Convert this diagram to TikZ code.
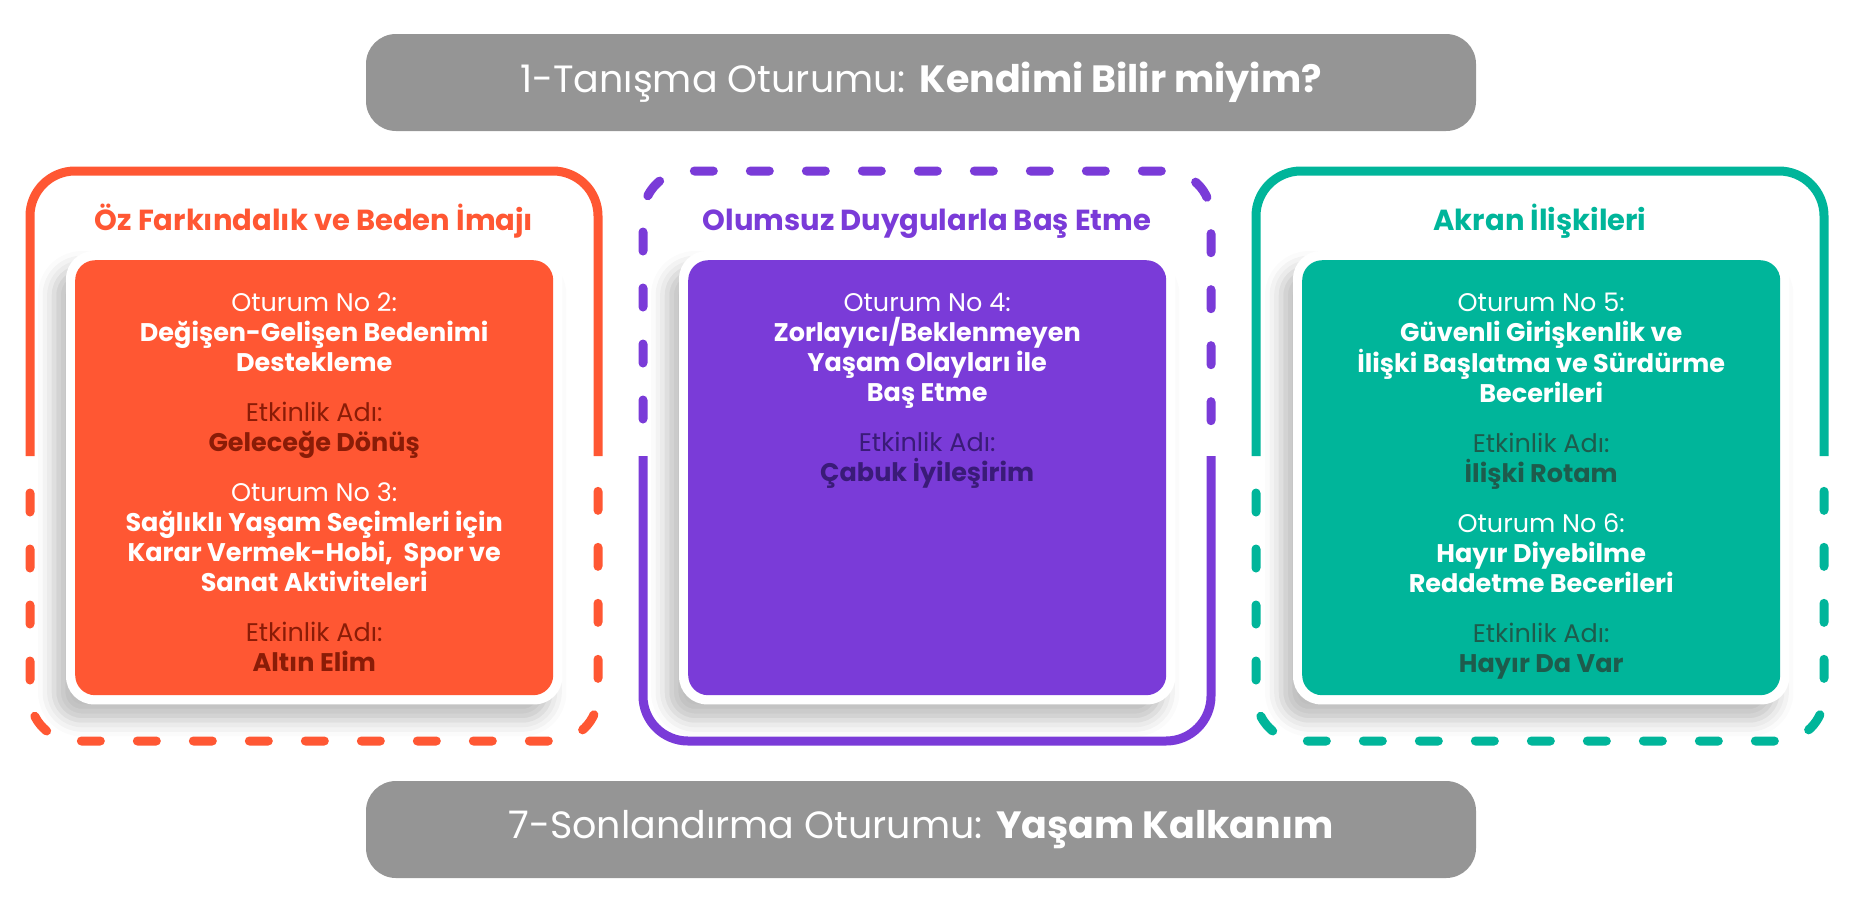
\documentclass[tikz,border=0pt]{standalone}
\usepackage{fontspec}
\setmainfont{Poppins}
\usetikzlibrary{backgrounds,fit,shadows.blur}

\definecolor{ozorange}{HTML}{FF5733}
\definecolor{ozdark}{HTML}{8A1C07}
\definecolor{olpurple}{HTML}{7A3BD8}
\definecolor{oldark}{HTML}{3A1B78}
\definecolor{akteal}{HTML}{00B59A}
\definecolor{akdark}{HTML}{1E5B4C}
\definecolor{bargray}{HTML}{959595}

\newcommand{\sessiontext}[1]{%
  \begin{minipage}[t][435pt][t]{478pt}
    \centering\fontsize{25.5}{30}\selectfont
    \vspace*{33pt}#1
  \end{minipage}}

\tikzset{
  bar/.style={fill=bargray, text=white, rounded corners=30pt,
    minimum width=1110pt, minimum height=97pt,
    font=\fontsize{38}{44}\selectfont},
  grouptitle/.style={anchor=base, font=\bfseries\fontsize{29}{34}\selectfont},
  session/.style={inner sep=0pt, rounded corners=20pt, anchor=north west, text=white},
  card/.style={fill=white, rounded corners=28pt, inner sep=9pt,
    blur shadow={shadow xshift=-12pt, shadow yshift=-16pt,
      shadow blur radius=16pt, shadow opacity=25}},
  boxframe/.style={line width=9pt, rounded corners=45pt},
  dashedframe/.style={boxframe, line cap=round,
    dash pattern=on 19pt off 37pt, dash phase=19pt}
}

\begin{document}
\begin{tikzpicture}[x=1pt, y=-1pt]
  \useasboundingbox (0,0) rectangle (1854,914);

  % opening and closing sessions
  \node[bar] (intro) at (921,82.5) {1-Tanışma Oturumu: \textbf{Kendimi Bilir miyim?}};
  \node[bar] (closing) at (921,829.5) {7-Sonlandırma Oturumu: \textbf{Yaşam Kalkanım}};

  % group frames: half solid, half dashed
  \foreach \x/\col/\upper/\lower in {30/ozorange/boxframe/dashedframe,
      643/olpurple/dashedframe/boxframe, 1256/akteal/boxframe/dashedframe} {
    \draw[\upper, \col] (\x,456) -- (\x,171) -- (\x+568,171) -- (\x+568,456);
    \draw[\lower, \col] (\x,456) -- (\x,741) -- (\x+568,741) -- (\x+568,456);
  }

  % group titles
  \node[grouptitle, ozorange] (titleA) at (314,230) {Öz Farkındalık ve Beden İmajı};
  \node[grouptitle, olpurple] (titleB) at (927,230) {Olumsuz Duygularla Baş Etme};
  \node[grouptitle, akteal] (titleC) at (1540,230) {Akran İlişkileri};

  % session boxes
  \node[session, fill=ozorange] (boxA) at (75,260) {\sessiontext{%
    Oturum No 2:\\
    \textbf{Değişen-Gelişen Bedenimi}\\
    \textbf{Destekleme}\\[20pt]
    {\color{ozdark}Etkinlik Adı:\\ \textbf{Geleceğe Dönüş}}\\[20pt]
    Oturum No 3:\\
    \textbf{Sağlıklı Yaşam Seçimleri için}\\
    \textbf{Karar Vermek-Hobi,\ \ Spor ve}\\
    \textbf{Sanat Aktiviteleri}\\[20pt]
    {\color{ozdark}Etkinlik Adı:\\ \textbf{Altın Elim}}}};
  \node[session, fill=olpurple] (boxB) at (688,260) {\sessiontext{%
    Oturum No 4:\\
    \textbf{Zorlayıcı/Beklenmeyen}\\
    \textbf{Yaşam Olayları ile}\\
    \textbf{Baş Etme}\\[20pt]
    {\color{oldark}Etkinlik Adı:\\ \textbf{Çabuk İyileşirim}}}};
  \node[session, fill=akteal] (boxC) at (1302,260) {\sessiontext{%
    Oturum No 5:\\
    \textbf{Güvenli Girişkenlik ve}\\
    \textbf{İlişki Başlatma ve Sürdürme}\\
    \textbf{Becerileri}\\[20pt]
    {\color{akdark}Etkinlik Adı:\\ \textbf{İlişki Rotam}}\\[20pt]
    Oturum No 6:\\
    \textbf{Hayır Diyebilme}\\
    \textbf{Reddetme Becerileri}\\[20pt]
    {\color{akdark}Etkinlik Adı:\\ \textbf{Hayır Da Var}}}};

  % white cards with soft shadow behind the boxes
  \begin{scope}[on background layer]
    \foreach \b in {boxA,boxB,boxC}
      \node[card, fit=(\b)] (card\b) {};
  \end{scope}
\end{tikzpicture}
\end{document}
